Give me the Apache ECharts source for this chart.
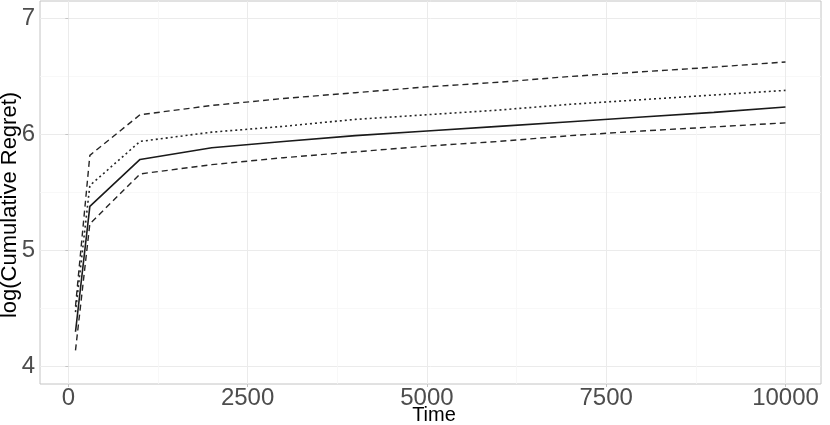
<!DOCTYPE html>
<html>
<head>
<meta charset="utf-8">
<script src="https://cdn.jsdelivr.net/npm/echarts@6/dist/echarts.min.js"></script>
<style>
html,body{margin:0;padding:0;background:#fff;}
#chart{width:830px;height:425px;}
</style>
</head>
<body>
<div id="chart"></div>
<script>
// ---- data ----
var timePoints = [100, 300, 1000, 2000, 3000, 4000, 5000, 6000, 7000, 8000, 9000, 10000];
var meanRegret = [4.30, 5.38, 5.785, 5.885, 5.94, 5.99, 6.03, 6.07, 6.11, 6.15, 6.19, 6.237];
var upperDashed = [4.52, 5.82, 6.17, 6.25, 6.31, 6.36, 6.41, 6.45, 6.50, 6.54, 6.58, 6.625];
var dottedLine = [4.47, 5.56, 5.94, 6.02, 6.07, 6.13, 6.17, 6.21, 6.26, 6.30, 6.34, 6.38];
var lowerDashed = [4.14, 5.23, 5.66, 5.74, 5.80, 5.85, 5.90, 5.94, 5.99, 6.03, 6.065, 6.10];
var xTicks = [0, 2500, 5000, 7500, 10000];
var xMinorTicks = [1250, 3750, 6250, 8750];
var yTicks = [4, 5, 6, 7];
var yMinorTicks = [4.5, 5.5, 6.5];
var xTitle = 'Time';
var yTitle = 'log(Cumulative Regret)';

function pairs(xs, ys) {
  return xs.map(function (x, i) { return [x, ys[i]]; });
}

var chart = echarts.init(document.getElementById('chart'), null, {renderer: 'canvas'});
var font = 'Liberation Sans, Arial, Helvetica, sans-serif';
var xMin = -395, xMax = 10495, yMin = 3.85, yMax = 7.15;

function mkX(ticks, major) {
  return {
    type: 'value', min: xMin, max: xMax, position: 'bottom',
    axisLine: {show: false},
    axisTick: {show: major, customValues: ticks, length: 3, lineStyle: {color: '#c4c4c4', width: 1}},
    axisLabel: {show: major, customValues: ticks, fontSize: 24, color: '#4d4d4d', fontFamily: font, margin: 2,
                formatter: function (v) { return String(v); }},
    splitLine: {show: true, lineStyle: {color: major ? '#ebebeb' : '#f6f6f6', width: major ? 1 : 0.8}}
  };
}
function mkY(ticks, major) {
  return {
    type: 'value', min: yMin, max: yMax, position: 'left',
    axisLine: {show: false},
    axisTick: {show: major, customValues: ticks, length: 3, lineStyle: {color: '#c4c4c4', width: 1}},
    axisLabel: {show: major, customValues: ticks, fontSize: 24, color: '#4d4d4d', fontFamily: font, margin: 5,
                formatter: function (v) { return String(v); }},
    splitLine: {show: true, lineStyle: {color: major ? '#ebebeb' : '#f6f6f6', width: major ? 1 : 0.8}}
  };
}

function line(ys, dash, color, width) {
  return {
    type: 'line', data: pairs(timePoints, ys), xAxisIndex: 0, yAxisIndex: 0,
    showSymbol: false, symbol: 'none', silent: true,
    lineStyle: {color: color, width: width, type: dash}
  };
}

chart.setOption({
  animation: false,
  backgroundColor: '#ffffff',
  grid: {left: 40, right: 9, top: 1, bottom: 41, show: true, borderColor: '#c4c4c4', borderWidth: 1, backgroundColor: 'transparent'},
  xAxis: [mkX(xTicks, true), mkX(xMinorTicks, false)],
  yAxis: [mkY(yTicks, true), mkY(yMinorTicks, false)],
  series: [
    line(upperDashed, [6, 4], '#262626', 1.4),
    line(dottedLine, [2, 3], '#262626', 1.6),
    line(meanRegret, 'solid', '#1a1a1a', 1.6),
    line(lowerDashed, [6, 4], '#262626', 1.4)
  ],
  graphic: [
    {type: 'text', x: 434, y: 415,
     style: {text: xTitle, font: '20px ' + font, fill: '#000000', align: 'center', verticalAlign: 'middle'}},
    {type: 'text', x: 10, y: 205, rotation: Math.PI / 2,
     style: {text: yTitle, font: '22px ' + font, fill: '#000000', align: 'center', verticalAlign: 'middle'}}
  ]
});
</script>
</body>
</html>
